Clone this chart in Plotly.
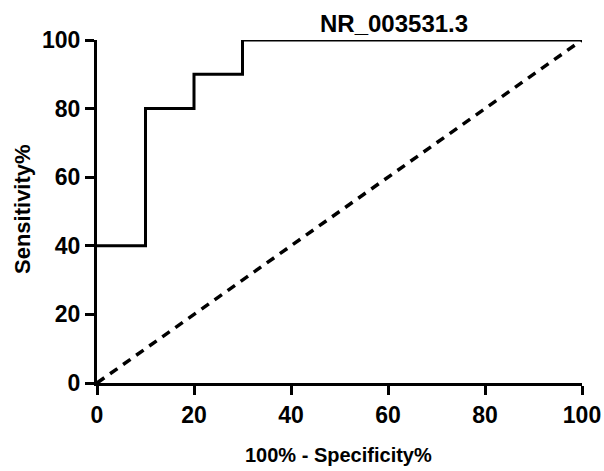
import plotly.graph_objects as go

# ROC data (percent)
fpr = [0, 10, 20, 30, 100]      # 100% - Specificity%
tpr = [40, 80, 90, 100, 100]    # Sensitivity%
ref_x = [0, 100]
ref_y = [0, 100]

titulo = 'NR_003531.3'
ticks = [0, 20, 40, 60, 80, 100]

fonte = 'Liberation Sans, Arial, sans-serif'

fig = go.Figure()
fig.add_trace(go.Scatter(x=ref_x, y=ref_y, mode='lines', cliponaxis=False,
                         line=dict(color='black', width=3.5, dash='9px,7px'), showlegend=False))
fig.add_trace(go.Scatter(x=fpr, y=tpr, mode='lines', cliponaxis=False,
                         line=dict(color='black', width=3, shape='hv'), showlegend=False))

eixo = dict(range=[0, 100], tickvals=ticks, showgrid=False, zeroline=False,
            showline=True, linecolor='black', linewidth=3, automargin=False,
            ticks='outside', ticklen=9, tickwidth=3, tickcolor='black',
            tickfont=dict(family=fonte, size=23, color='black', weight='bold'))

fig.update_xaxes(**eixo)
fig.update_yaxes(**eixo)

# pixel -> paper (area do grafico: x 97..582, y 40..383)
def px(x): return (x - 97) / 485
def py(y): return (383 - y) / 343

fig.update_layout(
  width=604, height=471,
  margin=dict(l=97, r=22, t=40, b=88),
  plot_bgcolor='white', paper_bgcolor='white',
  annotations=[
    dict(text=titulo, x=px(394), y=py(23), xref='paper', yref='paper', showarrow=False,
         xanchor='center', yanchor='middle',
         font=dict(family=fonte, size=24, color='black', weight='bold')),
    dict(text='100% - Specificity%', x=px(338), y=py(455), xref='paper', yref='paper', showarrow=False,
         xanchor='center', yanchor='middle',
         font=dict(family=fonte, size=20, color='black', weight='bold')),
    dict(text='Sensitivity%', x=px(22), y=py(209), xref='paper', yref='paper', showarrow=False,
         xanchor='center', yanchor='middle', textangle=-90,
         font=dict(family=fonte, size=22, color='black', weight='bold')),
  ],
)

fig.write_html("out.html", config={'displayModeBar': False, 'responsive': False},
               post_script="document.body.style.margin='0';document.body.style.overflow='hidden';")
